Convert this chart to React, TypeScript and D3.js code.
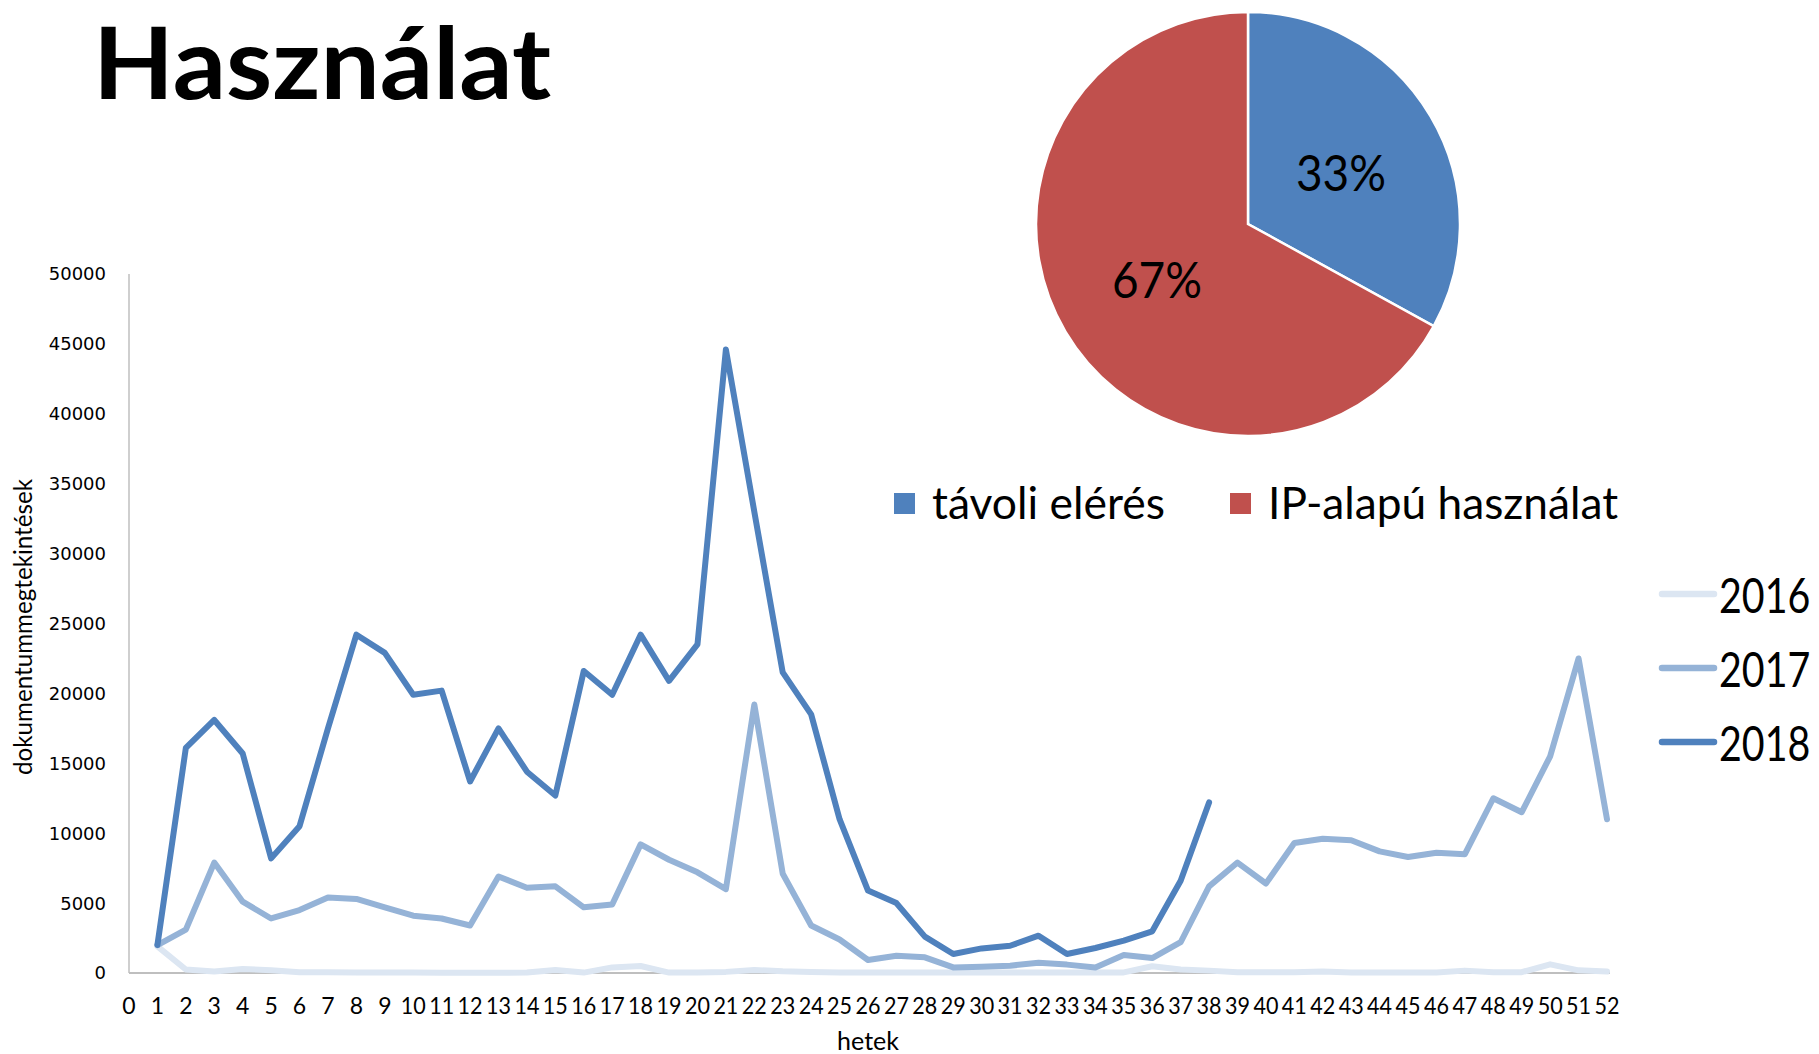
import { line, pie, arc, scaleLinear, range } from "d3";

// weekly document views (weeks 1..)
const values2016 = [
  1900, 250, 100, 280, 200, 50, 50, 40, 30, 30, 20, 20, 20, 30, 220, 30, 400, 500, 30, 30,
  80, 220, 120, 70, 40, 30, 30, 30, 30, 30, 30, 30, 30, 30, 40, 480, 250, 170, 60, 50,
  60, 100, 30, 30, 30, 30, 170, 60, 60, 620, 190, 100,
];
const values2017 = [
  2000, 3100, 7900, 5100, 3900, 4500, 5400, 5300, 4700, 4100, 3900, 3400, 6900, 6100, 6200, 4700, 4900, 9200, 8100, 7200,
  6000, 19200, 7100, 3400, 2400, 930, 1240, 1120, 400, 450, 520, 740, 600, 400, 1290, 1070, 2200, 6200, 7900, 6400,
  9300, 9600, 9500, 8700, 8300, 8600, 8500, 12500, 11500, 15500, 22500, 11000,
];
const values2018 = [
  2000, 16100, 18100, 15700, 8200, 10500, 17500, 24200, 22900, 19900, 20200, 13700, 17500, 14400, 12700, 21600, 19900, 24200, 20900, 23500,
  44600, 33000, 21500, 18500, 11000, 5900, 5000, 2600, 1360, 1760, 1950, 2670, 1360, 1790, 2310, 2980, 6600, 12200,
];

const seriesNames = ["2016", "2017", "2018"];
const seriesColors = ["#dce6f2", "#95b3d7", "#4f81bd"];
const seriesValues = [values2016, values2017, values2018];

const yTicks = [0, 5000, 10000, 15000, 20000, 25000, 30000, 35000, 40000, 45000, 50000];
const weekTicks = range(0, 53);

const pieLabels = ["távoli elérés", "IP-alapú használat"];
const pieShares = [33, 67];
const pieColors = ["#4f81bd", "#c0504d"];

const W = 1819, H = 1054;
const calibri = "Lato, 'Open Sans', sans-serif";

export default function App() {
  const x = scaleLinear().domain([0, 52]).range([129, 1607]);
  const y = scaleLinear().domain([0, 50000]).range([973, 274]);

  const lineGen = line<number>()
    .x((d, i) => x(i + 1))
    .y((d) => y(d));

  const pieCx = 1248, pieCy = 224, pieR = 212;
  const slices = pie<number>().sort(null).value((d) => d)(pieShares);
  const arcGen = arc<any>().innerRadius(0).outerRadius(pieR);
  // where Excel put the percentages
  const pieLabelPos = [
    [1341, 191],
    [1157, 298],
  ];

  return (
    <svg
      width={W}
      height={H}
      viewBox={`0 0 ${W} ${H}`}
      style={{ position: "absolute", left: 0, top: 0, background: "#fff" }}
    >
      <defs>
        <clipPath id="plotClip">
          <rect x={0} y={0} width={x(52) + 3} height={H} />
        </clipPath>
      </defs>

      {/* title */}
      <text
        x={93}
        y={99}
        fontFamily={calibri}
        fontWeight="bold"
        fontSize={100}
        textLength={458}
        lengthAdjust="spacingAndGlyphs"
        fill="#000"
      >
        Használat
      </text>

      {/* axes */}
      <line x1={x(0)} x2={x(0)} y1={y(50000)} y2={y(0)} stroke="#bfbfbf" strokeWidth={1.5} />
      <line x1={x(0)} x2={x(52) + 3} y1={y(0)} y2={y(0)} stroke="#bfbfbf" strokeWidth={2} />

      {yTicks.map((t) => (
        <text
          key={t}
          x={106}
          y={y(t)}
          dy="0.36em"
          textAnchor="end"
          fontFamily="'DejaVu Sans', Verdana, sans-serif"
          fontSize={18}
          fill="#000"
        >
          {t}
        </text>
      ))}

      {weekTicks.map((w) => (
        <text
          key={w}
          x={x(w)}
          y={1014}
          textAnchor="middle"
          fontFamily={calibri}
          fontSize={23}
          textLength={w >= 10 ? 25 : undefined}
          lengthAdjust="spacingAndGlyphs"
          fill="#000"
        >
          {w}
        </text>
      ))}

      <text x={868} y={1050} textAnchor="middle" fontFamily={calibri} fontSize={25} fill="#000">
        hetek
      </text>
      <text
        transform="translate(32,627) rotate(-90)"
        textAnchor="middle"
        fontFamily={calibri}
        fontSize={25}
        textLength={296}
        lengthAdjust="spacingAndGlyphs"
        fill="#000"
      >
        dokumentummegtekintések
      </text>

      {/* lines */}
      <g clipPath="url(#plotClip)">
        {seriesValues.map((vals, i) => (
          <path
            key={seriesNames[i]}
            d={lineGen(vals) ?? ""}
            fill="none"
            stroke={seriesColors[i]}
            strokeWidth={6}
            strokeLinejoin="round"
            strokeLinecap="round"
          />
        ))}
      </g>

      {/* line legend */}
      {seriesNames.map((name, i) => (
        <g key={name} transform={`translate(0,${594 + i * 74})`}>
          <line x1={1662} x2={1714} y1={0} y2={0} stroke={seriesColors[i]} strokeWidth={6.5} strokeLinecap="round" />
          <text
            transform="translate(1719,19) scale(0.82,1)"
            fontFamily={calibri}
            fontSize={48}
            fill="#000"
          >
            {name}
          </text>
        </g>
      ))}

      {/* pie */}
      <g transform={`translate(${pieCx},${pieCy})`}>
        {slices.map((s, i) => (
          <path key={pieLabels[i]} d={arcGen(s) ?? ""} fill={pieColors[i]} stroke="#fff" strokeWidth={2.5} />
        ))}
      </g>
      {pieShares.map((v, i) => (
        <text
          key={v}
          x={pieLabelPos[i][0]}
          y={pieLabelPos[i][1]}
          textAnchor="middle"
          fontFamily={calibri}
          fontSize={50}
          textLength={90}
          lengthAdjust="spacingAndGlyphs"
          fill="#000"
        >
          {`${v}%`}
        </text>
      ))}

      {/* pie legend */}
      {pieLabels.map((lab, i) => {
        const lx = i === 0 ? 894 : 1230;
        return (
          <g key={lab}>
            <rect x={lx} y={493} width={21} height={21} fill={pieColors[i]} />
            <text
              x={lx + 38}
              y={519}
              fontFamily={calibri}
              fontSize={45}
              textLength={i === 0 ? 233 : 350}
              lengthAdjust="spacingAndGlyphs"
              fill="#000"
            >
              {lab}
            </text>
          </g>
        );
      })}
    </svg>
  );
}
